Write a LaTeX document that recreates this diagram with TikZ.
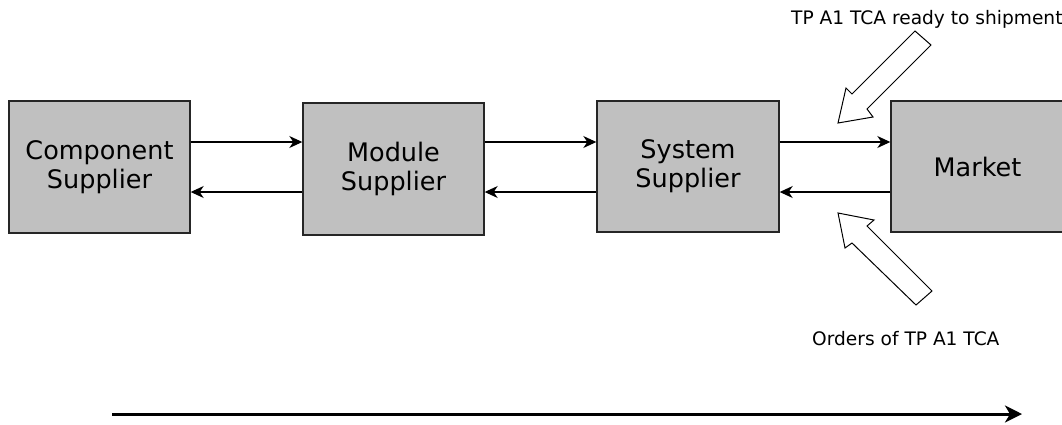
\documentclass[tikz,border=0pt]{standalone}
\usepackage{fontspec}
\setmainfont{DejaVu Sans}
\usetikzlibrary{arrows.meta}
\definecolor{boxgray}{RGB}{192,192,192}
\begin{document}
\begin{tikzpicture}[x=1pt,y=-1pt,
  box/.style={draw=black!85, line width=1.4pt, fill=boxgray, inner sep=0pt, align=center,
              font=\fontsize{25.5}{29}\selectfont},
  conn/.style={line width=1.2pt, -{Stealth[length=13pt,width=12pt,inset=4pt]}},
  hollow/.style={draw=black, line width=1pt, fill=white, line join=miter},
  lbl/.style={font=\fontsize{18.6}{22}\selectfont, inner sep=0pt, anchor=base west},
  flow/.style={line width=3pt, -{Stealth[length=17pt,width=17pt,inset=5pt]}}]
\useasboundingbox (0,0) rectangle (1062,424);
\clip (0,0) rectangle (1062,424);

\node[box, minimum width=181pt, minimum height=132pt] (comp) at (99.5,167) {Component\\Supplier};
\node[box, minimum width=181pt, minimum height=132pt] (mod) at (393.5,169) {Module\\Supplier};
\node[box, minimum width=182pt, minimum height=131pt] (sys) at (688,166.5) {System\\Supplier};
\node[box, minimum width=173pt, minimum height=131pt] (mkt) at (977.5,166.5) {Market};

\coordinate (ytop) at (0,142);
\coordinate (ybot) at (0,192);

\draw[conn] (comp.east |- ytop) -- (mod.west |- ytop);
\draw[conn] (mod.east |- ytop) -- (sys.west |- ytop);
\draw[conn] (sys.east |- ytop) -- (mkt.west |- ytop);
\draw[conn] (mod.west |- ybot) -- (comp.east |- ybot);
\draw[conn] (sys.west |- ybot) -- (mod.east |- ybot);
\draw[conn] (mkt.west |- ybot) -- (sys.east |- ybot);

\draw[hollow] (915,31) -- (931,45) -- (867,109) -- (873,117) -- (838,123) -- (846,88) -- (852,94) -- cycle;
\draw[hollow] (838,213) -- (874,220) -- (867,226) -- (932,291) -- (916,305) -- (852,243) -- (845,248) -- cycle;

\node[lbl] (t1) at (791,24) {TP A1 TCA ready to shipment};
\node[lbl] (t2) at (812,345) {Orders of TP A1 TCA};

\coordinate (ls) at (112,414);
\coordinate (le) at (1022,414);
\draw[flow] (ls) -- (le);
\end{tikzpicture}
\end{document}
